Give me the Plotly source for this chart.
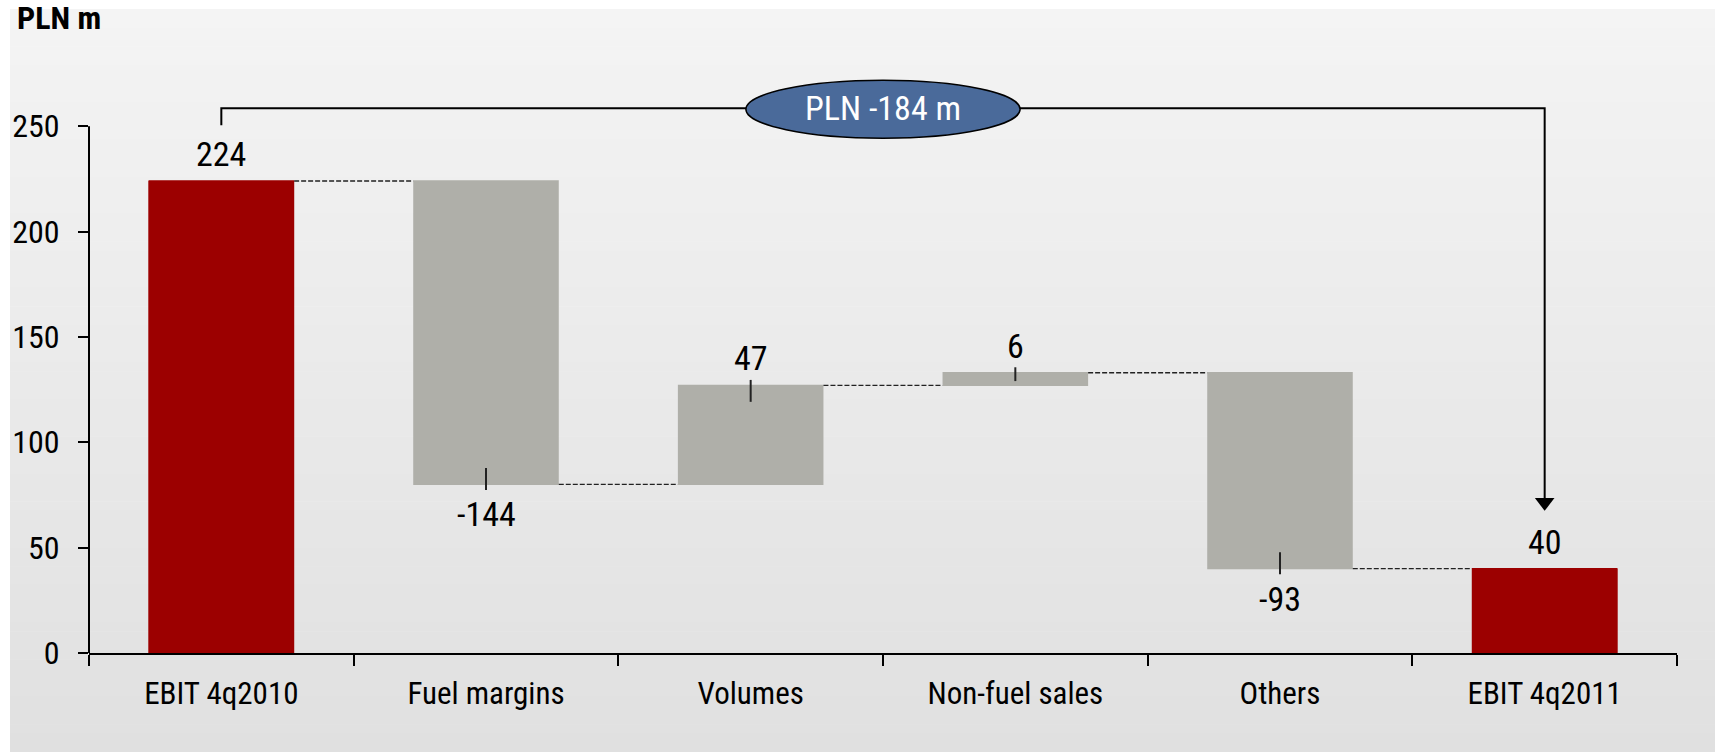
import plotly.graph_objects as go

# EBIT bridge 4q2010 -> 4q2011, PLN m
categories = ["EBIT 4q2010", "Fuel margins", "Volumes", "Non-fuel sales", "Others", "EBIT 4q2011"]
values = [224, -144, 47, 6, -93, 40]
measures = ["absolute", "relative", "relative", "relative", "relative", "absolute"]
y_ticks = [0, 50, 100, 150, 200, 250]

FONT = "Liberation Sans Narrow, Arial Narrow, Roboto Condensed, sans-serif"
RED = "#9c0000"
GREY = "#afafa9"

# running totals: base and end of every bar
bases, ends = [], []
level = 0
for v, m in zip(values, measures):
    if m == "absolute":
        bases.append(0)
        level = v
    else:
        bases.append(level)
        level += v
    ends.append(level)

fig = go.Figure()

fig.add_trace(go.Waterfall(
    x=categories, y=values, measure=measures,
    width=0.55,
    increasing=dict(marker=dict(color=GREY)),
    decreasing=dict(marker=dict(color=GREY)),
    totals=dict(marker=dict(color=RED)),
    connector=dict(mode="between", line=dict(color="#222222", width=1.3, dash="5px,2px")),
    textinfo="none", hoverinfo="x+y", showlegend=False,
))

# absolute bars in red
abs_cats = [c for c, m in zip(categories, measures) if m == "absolute"]
abs_vals = [v for v, m in zip(values, measures) if m == "absolute"]
fig.add_trace(go.Bar(x=abs_cats, y=abs_vals, width=0.55, marker=dict(color=RED, line=dict(width=0)),
                     showlegend=False, hoverinfo="skip"))

# small leader ticks at the end of each change bar
tx, ty = [], []
for c, v, m, e in zip(categories, values, measures, ends):
    if m != "relative":
        continue
    s = 1 if v > 0 else -1
    inner = min(7.8, 0.66 * abs(v))
    tx += [c, c, None]
    ty += [e + s * 2.6, e - s * inner, None]
fig.add_trace(go.Scatter(x=tx, y=ty, mode="lines", line=dict(color="#222222", width=2),
                         showlegend=False, hoverinfo="skip"))

# value labels
annotations = []
for c, v, m, e in zip(categories, values, measures, ends):
    up = v > 0
    annotations.append(dict(
        x=c, y=e, xref="x", yref="y", text=str(v), showarrow=False,
        yanchor="bottom" if up else "top", yshift=5 if up else -8,
        font=dict(family=FONT, size=34, color="#000000"),
    ))

# bracket from the first to the last EBIT bar with the total change
change = values[-1] - values[0]
bracket_y = 258.5
fig.add_trace(go.Scatter(
    x=[categories[0], categories[0], categories[-1], categories[-1]],
    y=[250.4, bracket_y, bracket_y, 72],
    mode="lines", line=dict(color="#000000", width=2),
    showlegend=False, hoverinfo="skip",
))
fig.add_trace(go.Scatter(
    x=[categories[-1]], y=[71.5], mode="markers",
    marker=dict(symbol="triangle-down", size=17, color="#000000"),
    showlegend=False, hoverinfo="skip",
))

mid = (len(categories) - 1) / 2
shapes = [dict(type="circle", xref="x", yref="y",
               x0=mid - 0.518, x1=mid + 0.518, y0=244.3, y1=271.8,
               fillcolor="#4a6a9a", line=dict(color="#000000", width=1.5), layer="above")]
annotations.append(dict(x=mid, y=bracket_y, xref="x", yref="y", text=f"PLN {change} m",
                        showarrow=False, font=dict(family=FONT, size=34, color="#ffffff")))

# y axis line stopping at the top tick
shapes.append(dict(type="line", xref="paper", yref="y", x0=0, x1=0, y0=0, y1=y_ticks[-1],
                   line=dict(color="#000000", width=2), layer="above"))

# vertical grey gradient behind the chart
W, H = 1715, 752
ml, mr, mt, mb = 89, 38, 63, 99
pw, ph = W - ml - mr, H - mt - mb
top_px, left_px = 9, 10
n = 80
c_top, c_bot = 244, 224
for i in range(n):
    ya = top_px + (H - top_px) * i / n
    yb = top_px + (H - top_px) * (i + 1) / n + 0.6
    g = round(c_top + (c_bot - c_top) * (i + 0.5) / n)
    shapes.append(dict(
        type="rect", xref="paper", yref="paper", layer="below",
        x0=(left_px - ml) / pw, x1=(W - ml) / pw,
        y0=(H - mb - yb) / ph, y1=(H - mb - ya) / ph,
        fillcolor=f"rgb({g},{g},{g})", line=dict(width=0),
    ))

fig.update_layout(
    width=W, height=H, autosize=False,
    margin=dict(l=ml, r=mr, t=mt, b=mb, pad=0),
    paper_bgcolor="#ffffff", plot_bgcolor="rgba(0,0,0,0)",
    barmode="overlay", bargap=0.45,
    font=dict(family=FONT, color="#000000"),
    shapes=shapes, annotations=annotations,
    title=dict(text="<b>PLN m</b>", x=17 / W, xanchor="left", y=1 - 7 / H, yanchor="top",
               font=dict(family=FONT, size=32, color="#000000")),
    xaxis=dict(
        type="category", categoryorder="array", categoryarray=categories,
        showline=True, linecolor="#000000", linewidth=2,
        ticks="outside", tickson="boundaries", ticklen=11, tickwidth=2, tickcolor="#000000",
        showgrid=False, zeroline=False,
        tickfont=dict(family=FONT, size=31, color="#000000"),
        ticklabelstandoff=12,
        range=[-0.5, len(categories) - 0.5],
    ),
    yaxis=dict(
        range=[0, 280], tickvals=y_ticks, showline=False,
        ticks="outside", ticklen=10, tickwidth=2, tickcolor="#000000",
        showgrid=False, zeroline=False,
        tickfont=dict(family=FONT, size=32, color="#000000"),
        ticklabelstandoff=12,
    ),
)

fig.write_html("out.html")
